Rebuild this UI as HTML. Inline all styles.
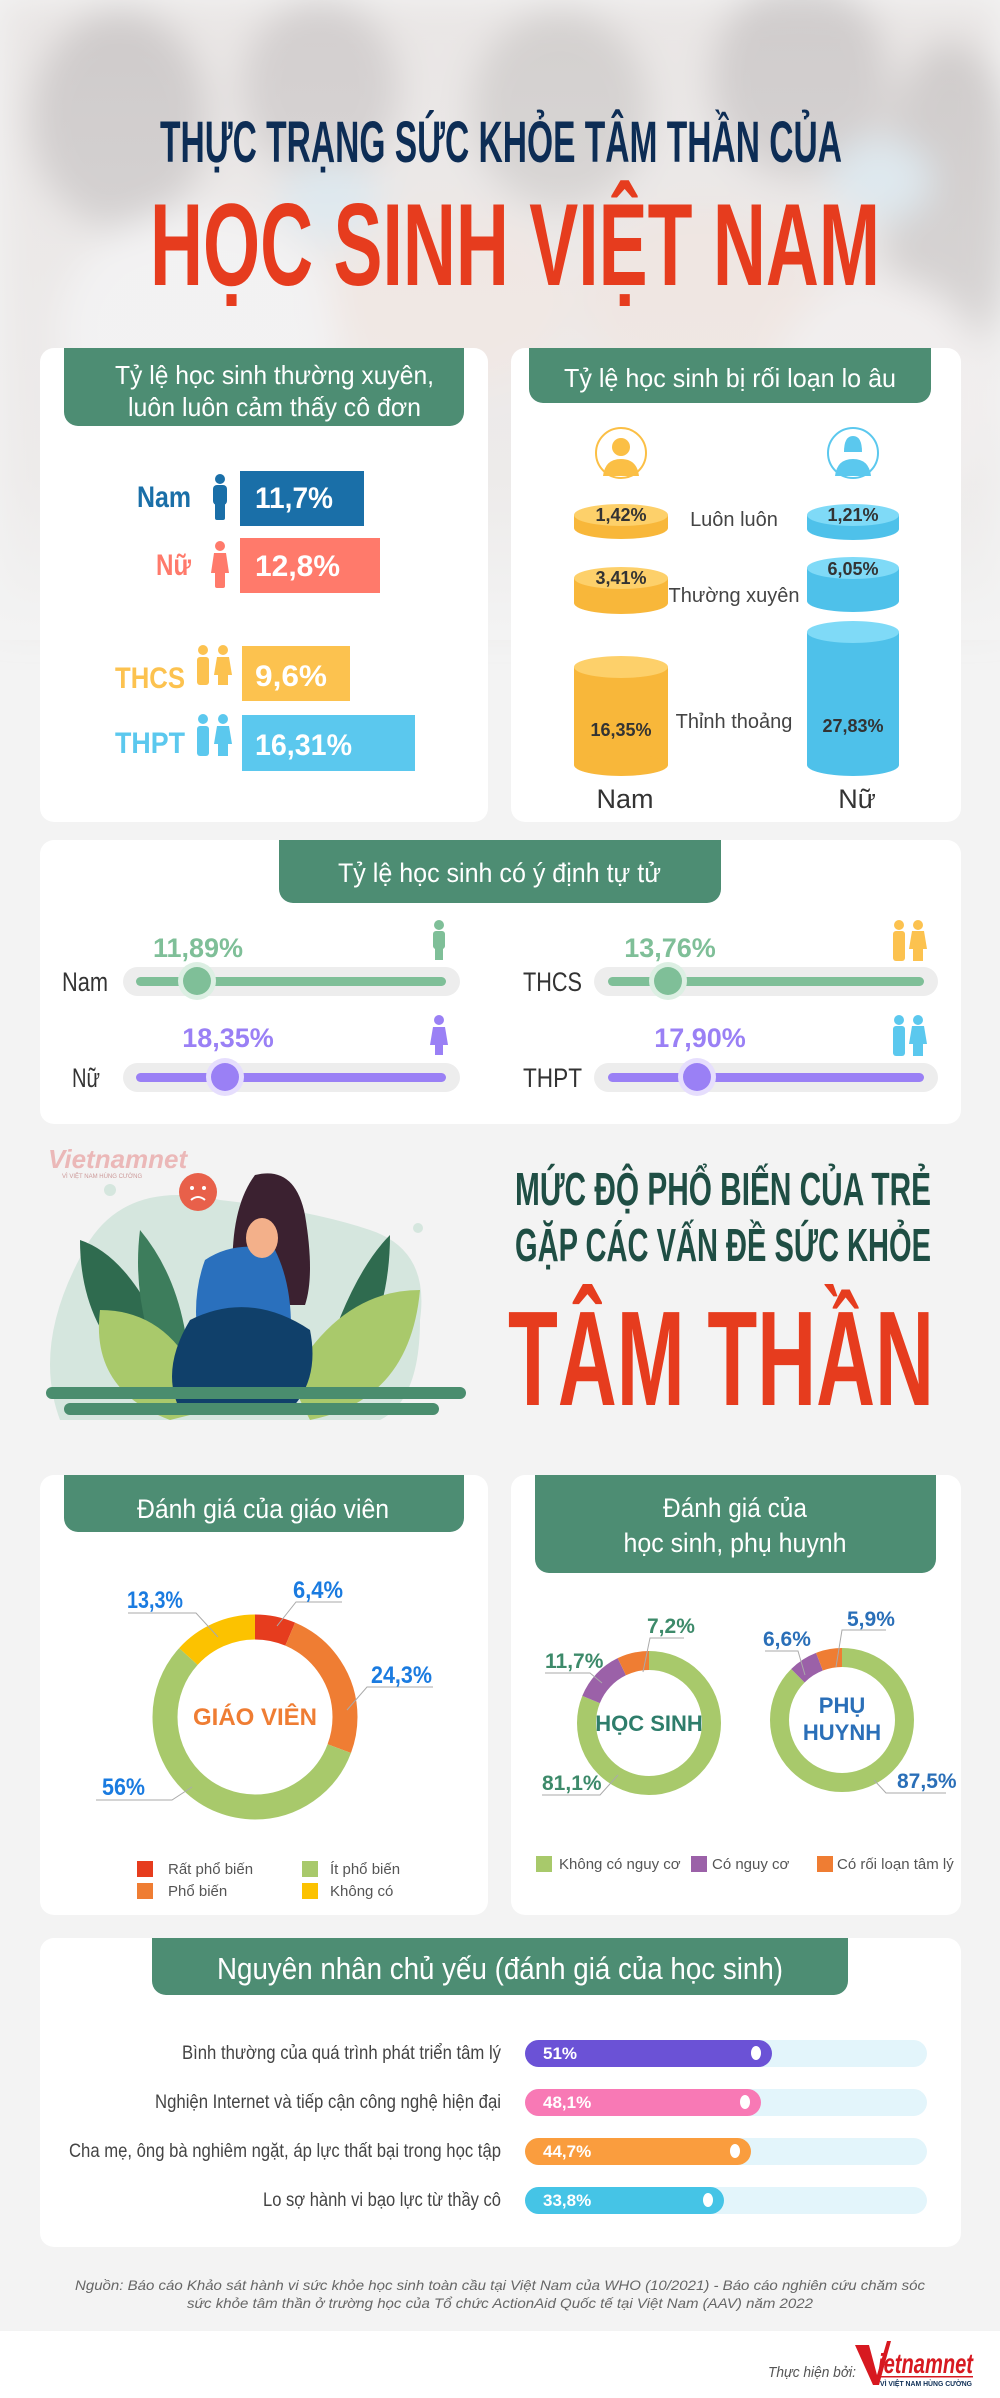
<!DOCTYPE html>
<html><head><meta charset="utf-8"><style>
html,body{margin:0;padding:0;background:#f3f3f3}
svg{display:block}
text{font-family:"Liberation Sans Narrow","Liberation Sans",sans-serif}
</style></head><body>
<svg width="1000" height="2398" viewBox="0 0 1000 2398" xmlns="http://www.w3.org/2000/svg">
<defs>
<filter id="bl" x="-20%" y="-20%" width="140%" height="140%"><feGaussianBlur stdDeviation="18"/></filter>
<linearGradient id="fade" x1="0" y1="0" x2="0" y2="1">
<stop offset="0" stop-color="#f3f3f3" stop-opacity="0.45"/>
<stop offset="0.75" stop-color="#f3f3f3" stop-opacity="0.65"/>
<stop offset="1" stop-color="#f3f3f3" stop-opacity="1"/>
</linearGradient>
</defs>
<rect width="1000" height="2398" fill="#f3f3f3"/>
<g filter="url(#bl)">
<rect x="0" y="0" width="1000" height="620" fill="#e2dcda"/>
<ellipse cx="120" cy="120" rx="90" ry="110" fill="#3a3438" opacity="0.3"/>
<ellipse cx="320" cy="90" rx="80" ry="90" fill="#4a4244" opacity="0.28"/>
<ellipse cx="560" cy="110" rx="90" ry="100" fill="#3e3638" opacity="0.25"/>
<ellipse cx="800" cy="80" rx="90" ry="100" fill="#3a3436" opacity="0.28"/>
<ellipse cx="950" cy="200" rx="70" ry="160" fill="#3a3436" opacity="0.3"/>
<ellipse cx="200" cy="330" rx="140" ry="120" fill="#f2f0f2"/>
<ellipse cx="450" cy="300" rx="120" ry="90" fill="#ecd8cf"/>
<ellipse cx="700" cy="300" rx="120" ry="90" fill="#ead5cc"/>
<ellipse cx="880" cy="400" rx="110" ry="120" fill="#efe8e8"/>
<ellipse cx="330" cy="200" rx="50" ry="40" fill="#c8dde9"/>
<ellipse cx="880" cy="180" rx="50" ry="40" fill="#c8dde9"/>
</g>
<rect x="0" y="0" width="1000" height="640" fill="url(#fade)"/>

<text x="160" y="162" font-size="58" font-weight="bold" fill="#0d2d55" textLength="682" lengthAdjust="spacingAndGlyphs">THỰC TRẠNG SỨC KHỎE TÂM THẦN CỦA</text>
<text x="150" y="285" font-size="117" font-weight="bold" fill="#e63c1e" textLength="730" lengthAdjust="spacingAndGlyphs">HỌC SINH VIỆT NAM</text>

<rect x="40" y="348" width="448" height="474" rx="14" fill="#fff"/>
<rect x="64" y="348" width="400" height="78" rx="14" fill="#4d8d73"/>
<rect x="64" y="348" width="400" height="20" fill="#4d8d73"/>
<text x="115" y="384" font-size="26" fill="#fff" textLength="319" lengthAdjust="spacingAndGlyphs">Tỷ lệ học sinh thường xuyên,</text>
<text x="128" y="416" font-size="26" fill="#fff" textLength="293" lengthAdjust="spacingAndGlyphs">luôn luôn cảm thấy cô đơn</text>

<text x="137" y="507" font-size="30" font-weight="bold" fill="#1a6fa8" textLength="54" lengthAdjust="spacingAndGlyphs">Nam</text>
<g fill="#1a6fa8"><circle cx="220" cy="479" r="5"/><rect x="213" y="485" width="14" height="20" rx="4"/><rect x="215" y="500" width="10" height="20" rx="2"/></g>
<rect x="240" y="471" width="124" height="55" fill="#1a6fa8"/>
<text x="255" y="508" font-size="30" font-weight="bold" fill="#fff" textLength="78" lengthAdjust="spacingAndGlyphs">11,7%</text>

<text x="156" y="575" font-size="30" font-weight="bold" fill="#ff7a6b" textLength="35" lengthAdjust="spacingAndGlyphs">Nữ</text>
<g fill="#ff7a6b"><circle cx="220" cy="546" r="5"/><path d="M214 553h12l3 20h-18z"/><rect x="215" y="570" width="10" height="18" rx="2"/></g>
<rect x="240" y="538" width="140" height="55" fill="#ff7a6b"/>
<text x="255" y="576" font-size="30" font-weight="bold" fill="#fff" textLength="85" lengthAdjust="spacingAndGlyphs">12,8%</text>

<text x="115" y="688" font-size="30" font-weight="bold" fill="#fcc24f" textLength="70" lengthAdjust="spacingAndGlyphs">THCS</text>
<g fill="#fcc24f"><circle cx="203" cy="650" r="5"/><rect x="197" y="657" width="12" height="28" rx="3"/><circle cx="223" cy="650" r="5"/><path d="M217 657h12l3 18h-18z"/><rect x="218" y="672" width="10" height="13"/></g>
<rect x="242" y="646" width="108" height="55" fill="#fcc24f"/>
<text x="255" y="686" font-size="30" font-weight="bold" fill="#fff" textLength="72" lengthAdjust="spacingAndGlyphs">9,6%</text>

<text x="115" y="753" font-size="30" font-weight="bold" fill="#5bc8ee" textLength="70" lengthAdjust="spacingAndGlyphs">THPT</text>
<g fill="#5bc8ee"><circle cx="203" cy="719" r="5"/><rect x="197" y="726" width="12" height="30" rx="3"/><circle cx="223" cy="719" r="5"/><path d="M217 726h12l3 18h-18z"/><rect x="218" y="741" width="10" height="15"/></g>
<rect x="242" y="715" width="173" height="56" fill="#5bc8ee"/>
<text x="255" y="755" font-size="30" font-weight="bold" fill="#fff" textLength="97" lengthAdjust="spacingAndGlyphs">16,31%</text>

<rect x="511" y="348" width="450" height="474" rx="14" fill="#fff"/>
<rect x="529" y="348" width="402" height="55" rx="14" fill="#4d8d73"/>
<rect x="529" y="348" width="402" height="20" fill="#4d8d73"/>
<text x="564" y="387" font-size="26" fill="#fff" textLength="332" lengthAdjust="spacingAndGlyphs">Tỷ lệ học sinh bị rối loạn lo âu</text>

<circle cx="621" cy="453" r="25" fill="#fff" stroke="#fbbf45" stroke-width="2"/>
<g fill="#fbbf45"><circle cx="621" cy="447" r="9"/><path d="M603 476 q2 -17 18 -17 q16 0 18 17z"/></g>
<circle cx="853" cy="453" r="25" fill="#fff" stroke="#5bc8ee" stroke-width="2"/>
<g fill="#5bc8ee"><path d="M844 452 q0 -16 9 -16 q9 0 9 16z"/><path d="M835 476 q2 -17 18 -17 q16 0 18 17z"/></g>

<g>
<rect x="574" y="515" width="94" height="13" fill="#f8b73a"/><ellipse cx="621" cy="528" rx="47" ry="11" fill="#f8b73a"/><ellipse cx="621" cy="515" rx="47" ry="11" fill="#fdd06a"/>
<rect x="807" y="515" width="92" height="14" fill="#4ec1ea"/><ellipse cx="853" cy="529" rx="46" ry="11" fill="#4ec1ea"/><ellipse cx="853" cy="515" rx="46" ry="11" fill="#7fdaf7"/>
<rect x="574" y="578" width="94" height="25" fill="#f8b73a"/><ellipse cx="621" cy="603" rx="47" ry="11" fill="#f8b73a"/><ellipse cx="621" cy="578" rx="47" ry="11" fill="#fdd06a"/>
<rect x="807" y="568" width="92" height="33" fill="#4ec1ea"/><ellipse cx="853" cy="601" rx="46" ry="11" fill="#4ec1ea"/><ellipse cx="853" cy="568" rx="46" ry="11" fill="#7fdaf7"/>
<rect x="574" y="667" width="94" height="98" fill="#f8b73a"/><ellipse cx="621" cy="765" rx="47" ry="11" fill="#f8b73a"/><ellipse cx="621" cy="667" rx="47" ry="11" fill="#fdd06a"/>
<rect x="807" y="632" width="92" height="133" fill="#4ec1ea"/><ellipse cx="853" cy="765" rx="46" ry="11" fill="#4ec1ea"/><ellipse cx="853" cy="632" rx="46" ry="11" fill="#7fdaf7"/>
</g>
<g font-size="18" font-weight="bold" fill="#333" text-anchor="middle">
<text x="621" y="521">1,42%</text><text x="853" y="521">1,21%</text>
<text x="621" y="584">3,41%</text><text x="853" y="575">6,05%</text>
<text x="621" y="736">16,35%</text><text x="853" y="732">27,83%</text>
</g>
<g font-size="20" fill="#444" text-anchor="middle">
<text x="734" y="526">Luôn luôn</text>
<text x="734" y="602">Thường xuyên</text>
<text x="734" y="728">Thỉnh thoảng</text>
</g>
<text x="625" y="808" font-size="27" fill="#333" text-anchor="middle">Nam</text>
<text x="857" y="808" font-size="27" fill="#333" text-anchor="middle">Nữ</text>

<rect x="40" y="840" width="921" height="284" rx="14" fill="#fff"/>
<rect x="279" y="840" width="442" height="63" rx="14" fill="#4d8d73"/>
<rect x="279" y="840" width="442" height="20" fill="#4d8d73"/>
<text x="338" y="882" font-size="27" fill="#fff" textLength="323" lengthAdjust="spacingAndGlyphs">Tỷ lệ học sinh có ý định tự tử</text>

<g font-size="27" fill="#333">
<text x="62" y="991" textLength="46" lengthAdjust="spacingAndGlyphs">Nam</text>
<text x="72" y="1087" textLength="28" lengthAdjust="spacingAndGlyphs">Nữ</text>
<text x="523" y="991" textLength="59" lengthAdjust="spacingAndGlyphs">THCS</text>
<text x="523" y="1087" textLength="59" lengthAdjust="spacingAndGlyphs">THPT</text>
</g>
<g>
<rect x="123" y="967" width="337" height="29" rx="14.5" fill="#ededed"/>
<rect x="136" y="977" width="310" height="9" rx="4.5" fill="#7fbf98"/>
<circle cx="197" cy="981" r="19" fill="#dcefe3"/><circle cx="197" cy="981" r="14" fill="#7fbf98"/>
<rect x="594" y="967" width="344" height="29" rx="14.5" fill="#ededed"/>
<rect x="608" y="977" width="316" height="9" rx="4.5" fill="#7fbf98"/>
<circle cx="668" cy="981" r="19" fill="#dcefe3"/><circle cx="668" cy="981" r="14" fill="#7fbf98"/>
<rect x="123" y="1063" width="337" height="29" rx="14.5" fill="#ededed"/>
<rect x="136" y="1073" width="310" height="9" rx="4.5" fill="#9a80f5"/>
<circle cx="225" cy="1077" r="19" fill="#e6defd"/><circle cx="225" cy="1077" r="14" fill="#9a80f5"/>
<rect x="594" y="1063" width="344" height="29" rx="14.5" fill="#ededed"/>
<rect x="608" y="1073" width="316" height="9" rx="4.5" fill="#9a80f5"/>
<circle cx="697" cy="1077" r="19" fill="#e6defd"/><circle cx="697" cy="1077" r="14" fill="#9a80f5"/>
</g>
<g font-size="27" font-weight="bold" text-anchor="middle">
<text x="198" y="957" fill="#7fbf98">11,89%</text>
<text x="670" y="957" fill="#7fbf98">13,76%</text>
<text x="228" y="1047" fill="#9a80f5">18,35%</text>
<text x="700" y="1047" fill="#9a80f5">17,90%</text>
</g>
<g fill="#7fbf98"><circle cx="439" cy="925" r="5"/><rect x="433" y="931" width="12" height="18" rx="3"/><rect x="435" y="945" width="8" height="15"/></g>
<g fill="#9a80f5"><circle cx="439" cy="1020" r="5"/><path d="M433 1027h12l3 18h-18z"/><rect x="435" y="1042" width="8" height="13"/></g>
<g fill="#fcc24f"><circle cx="899" cy="925" r="5"/><rect x="893" y="931" width="12" height="30" rx="3"/><circle cx="918" cy="925" r="5"/><path d="M912 931h12l3 18h-18z"/><rect x="913" y="946" width="10" height="15"/></g>
<g fill="#5bc8ee"><circle cx="899" cy="1020" r="5"/><rect x="893" y="1026" width="12" height="30" rx="3"/><circle cx="918" cy="1020" r="5"/><path d="M912 1026h12l3 18h-18z"/><rect x="913" y="1041" width="10" height="15"/></g>

<g>
<text x="48" y="1168" font-size="26" font-style="italic" font-weight="bold" fill="#e8a0a0" opacity="0.7">Vietnamnet</text>
<text x="62" y="1178" font-size="6" fill="#c99">VÌ VIỆT NAM HÙNG CƯỜNG</text>
<path d="M90 1240 q40 -60 130 -40 q90 10 150 30 q60 20 50 90 q0 80 -40 100 l-320 0 q-30 -80 30 -180z" fill="#d5e6de"/>
<circle cx="110" cy="1190" r="6" fill="#d5e6de"/><circle cx="418" cy="1228" r="5" fill="#d5e6de"/>
<path d="M80 1240 q60 20 100 140 l-20 10 q-80 -50 -80 -150z" fill="#2f6b4f"/>
<path d="M140 1230 q50 60 50 160 l-20 0 q-40 -80 -30 -160z" fill="#3d7d5c"/>
<path d="M390 1235 q-40 40 -70 140 l20 10 q50 -60 50 -150z" fill="#2f6b4f"/>
<path d="M100 1310 q80 0 110 100 l-40 10 q-80 -30 -70 -110z" fill="#a9c96b"/>
<path d="M420 1290 q-80 0 -130 90 l20 40 q100 -20 110 -130z" fill="#a9c96b"/>
<path d="M255 1175 q40 -10 50 40 q10 60 0 90 l-70 0 q-10 -90 20 -130z" fill="#3b2130"/>
<path d="M205 1260 q30 -20 70 -10 q20 40 15 100 l-90 0 q-10 -50 5 -90z" fill="#2a70bd"/>
<path d="M190 1320 q60 -30 120 10 q10 50 -20 80 l-110 0 q-20 -40 10 -90z" fill="#10406a"/>
<ellipse cx="262" cy="1238" rx="16" ry="20" fill="#f3b08a"/>
<circle cx="198" cy="1192" r="19" fill="#e8604a"/>
<circle cx="192" cy="1188" r="2" fill="#fff"/><circle cx="204" cy="1188" r="2" fill="#fff"/>
<path d="M191 1200 q7 -6 14 0" stroke="#fff" stroke-width="2" fill="none"/>
<rect x="46" y="1387" width="420" height="12" rx="6" fill="#4a8d6e"/>
<rect x="64" y="1403" width="375" height="12" rx="6" fill="#4a8d6e"/>
</g>
<g font-weight="bold">
<text x="515" y="1205" font-size="46" fill="#1f4e44" textLength="416" lengthAdjust="spacingAndGlyphs">MỨC ĐỘ PHỔ BIẾN CỦA TRẺ</text>
<text x="515" y="1261" font-size="46" fill="#1f4e44" textLength="416" lengthAdjust="spacingAndGlyphs">GẶP CÁC VẤN ĐỀ SỨC KHỎE</text>
<text x="508" y="1405" font-size="135" fill="#e63c1e" textLength="426" lengthAdjust="spacingAndGlyphs">TÂM THẦN</text>
</g>

<rect x="40" y="1475" width="448" height="440" rx="14" fill="#fff"/>
<rect x="64" y="1475" width="400" height="57" rx="14" fill="#4d8d73"/>
<rect x="64" y="1475" width="400" height="20" fill="#4d8d73"/>
<text x="137" y="1518" font-size="27" fill="#fff" textLength="252" lengthAdjust="spacingAndGlyphs">Đánh giá của giáo viên</text>
<g transform="rotate(-90 255 1717)" fill="none" stroke-width="25">
<circle cx="255" cy="1717" r="90" stroke="#e63c1e" stroke-dasharray="36.2 600"/>
<circle cx="255" cy="1717" r="90" stroke="#ef7d33" stroke-dasharray="0 36.2 137.4 600"/>
<circle cx="255" cy="1717" r="90" stroke="#a8c96b" stroke-dasharray="0 173.6 316.7 600"/>
<circle cx="255" cy="1717" r="90" stroke="#fcc200" stroke-dasharray="0 490.3 75.2 600"/>
</g>
<text x="255" y="1725" font-size="24" font-weight="bold" fill="#ef7d33" text-anchor="middle">GIÁO VIÊN</text>
<g stroke="#aaa" stroke-width="1" fill="none">
<polyline points="277,1626 296,1602 342,1602"/>
<polyline points="218,1637 196,1613 128,1613"/>
<polyline points="347,1710 367,1687 433,1687"/>
<polyline points="192,1787 172,1800 96,1800"/>
</g>
<g font-size="24" font-weight="bold" fill="#1a7be0">
<text x="293" y="1598" textLength="50" lengthAdjust="spacingAndGlyphs">6,4%</text>
<text x="127" y="1608" textLength="56" lengthAdjust="spacingAndGlyphs">13,3%</text>
<text x="371" y="1683" textLength="61" lengthAdjust="spacingAndGlyphs">24,3%</text>
<text x="102" y="1795" textLength="43" lengthAdjust="spacingAndGlyphs">56%</text>
</g>
<rect x="137" y="1861" width="16" height="16" fill="#e63c1e"/>
<rect x="137" y="1883" width="16" height="16" fill="#ef7d33"/>
<rect x="302" y="1861" width="16" height="16" fill="#a8c96b"/>
<rect x="302" y="1883" width="16" height="16" fill="#fcc200"/>
<g font-size="15" fill="#555">
<text x="168" y="1874">Rất phổ biến</text><text x="168" y="1896">Phổ biến</text>
<text x="330" y="1874">Ít phổ biến</text><text x="330" y="1896">Không có</text>
</g>

<rect x="511" y="1475" width="450" height="440" rx="14" fill="#fff"/>
<rect x="535" y="1475" width="401" height="98" rx="14" fill="#4d8d73"/>
<rect x="535" y="1475" width="401" height="20" fill="#4d8d73"/>
<text x="735" y="1517" font-size="27" fill="#fff" text-anchor="middle" textLength="144" lengthAdjust="spacingAndGlyphs">Đánh giá của</text>
<text x="735" y="1552" font-size="27" fill="#fff" text-anchor="middle" textLength="223" lengthAdjust="spacingAndGlyphs">học sinh, phụ huynh</text>

<g transform="rotate(-90 649 1723)" fill="none" stroke-width="19">
<circle cx="649" cy="1723" r="62.5" stroke="#a8c96b" stroke-dasharray="318.5 400"/>
<circle cx="649" cy="1723" r="62.5" stroke="#9b61a8" stroke-dasharray="0 318.5 45.9 400"/>
<circle cx="649" cy="1723" r="62.5" stroke="#ef7d33" stroke-dasharray="0 364.4 28.3 400"/>
</g>
<text x="649" y="1731" font-size="22" font-weight="bold" fill="#2e7d6b" text-anchor="middle">HỌC SINH</text>
<g transform="rotate(-90 842 1720)" fill="none" stroke-width="19">
<circle cx="842" cy="1720" r="62.5" stroke="#a8c96b" stroke-dasharray="343.6 400"/>
<circle cx="842" cy="1720" r="62.5" stroke="#9b61a8" stroke-dasharray="0 343.6 25.9 400"/>
<circle cx="842" cy="1720" r="62.5" stroke="#ef7d33" stroke-dasharray="0 369.5 23.2 400"/>
</g>
<text x="842" y="1713" font-size="22" font-weight="bold" fill="#2a6fb8" text-anchor="middle">PHỤ</text>
<text x="842" y="1740" font-size="22" font-weight="bold" fill="#2a6fb8" text-anchor="middle">HUYNH</text>
<g stroke="#aaa" stroke-width="1" fill="none">
<polyline points="643,1672 650,1638 684,1638"/>
<polyline points="602,1683 590,1673 545,1673"/>
<polyline points="618,1775 600,1795 542,1795"/>
<polyline points="836,1667 842,1630 886,1630"/>
<polyline points="805,1675 798,1651 765,1651"/>
<polyline points="874,1780 886,1793 946,1793"/>
</g>
<g font-size="21" font-weight="bold">
<text x="647" y="1633" fill="#3d8a6a">7,2%</text>
<text x="545" y="1668" fill="#3d8a6a">11,7%</text>
<text x="542" y="1790" fill="#3d8a6a">81,1%</text>
<text x="847" y="1626" fill="#2a6fb8">5,9%</text>
<text x="763" y="1646" fill="#2a6fb8">6,6%</text>
<text x="897" y="1788" fill="#2a6fb8">87,5%</text>
</g>
<rect x="536" y="1856" width="16" height="16" fill="#a8c96b"/>
<rect x="691" y="1856" width="16" height="16" fill="#9b61a8"/>
<rect x="817" y="1856" width="16" height="16" fill="#ef7d33"/>
<g font-size="15" fill="#555">
<text x="559" y="1869">Không có nguy cơ</text>
<text x="712" y="1869">Có nguy cơ</text>
<text x="837" y="1869">Có rối loạn tâm lý</text>
</g>

<rect x="40" y="1938" width="921" height="309" rx="14" fill="#fff"/>
<rect x="152" y="1938" width="696" height="57" rx="14" fill="#4d8d73"/>
<rect x="152" y="1938" width="696" height="20" fill="#4d8d73"/>
<text x="217" y="1979" font-size="31" fill="#fff" textLength="566" lengthAdjust="spacingAndGlyphs">Nguyên nhân chủ yếu (đánh giá của học sinh)</text>
<g font-size="19" fill="#444" text-anchor="end">
<text x="501" y="2059" textLength="319" lengthAdjust="spacingAndGlyphs">Bình thường của quá trình phát triển tâm lý</text>
<text x="501" y="2108" textLength="346" lengthAdjust="spacingAndGlyphs">Nghiện Internet và tiếp cận công nghệ hiện đại</text>
<text x="501" y="2157" textLength="432" lengthAdjust="spacingAndGlyphs">Cha mẹ, ông bà nghiêm ngặt, áp lực thất bại trong học tập</text>
<text x="501" y="2206" textLength="238" lengthAdjust="spacingAndGlyphs">Lo sợ hành vi bạo lực từ thầy cô</text>
</g>
<g>
<rect x="525" y="2040" width="402" height="27" rx="13.5" fill="#e3f5fb"/>
<rect x="525" y="2040" width="247" height="27" rx="13.5" fill="#6b52d6"/>
<ellipse cx="756" cy="2053" rx="5" ry="7" fill="#fff"/>
<rect x="525" y="2089" width="402" height="27" rx="13.5" fill="#e3f5fb"/>
<rect x="525" y="2089" width="236" height="27" rx="13.5" fill="#f879b5"/>
<ellipse cx="745" cy="2102" rx="5" ry="7" fill="#fff"/>
<rect x="525" y="2138" width="402" height="27" rx="13.5" fill="#e3f5fb"/>
<rect x="525" y="2138" width="226" height="27" rx="13.5" fill="#fa9d3e"/>
<ellipse cx="735" cy="2151" rx="5" ry="7" fill="#fff"/>
<rect x="525" y="2187" width="402" height="27" rx="13.5" fill="#e3f5fb"/>
<rect x="525" y="2187" width="199" height="27" rx="13.5" fill="#45c4e6"/>
<ellipse cx="708" cy="2200" rx="5" ry="7" fill="#fff"/>
</g>
<g font-size="17" font-weight="bold" fill="#fff">
<text x="543" y="2059">51%</text><text x="543" y="2108">48,1%</text><text x="543" y="2157">44,7%</text><text x="543" y="2206">33,8%</text>
</g>

<g font-size="14" font-style="italic" fill="#666">
<text x="75" y="2290" textLength="850" lengthAdjust="spacingAndGlyphs">Nguồn: Báo cáo Khảo sát hành vi sức khỏe học sinh toàn cầu tại Việt Nam của WHO (10/2021) - Báo cáo nghiên cứu chăm sóc</text>
<text x="187" y="2308" textLength="626" lengthAdjust="spacingAndGlyphs">sức khỏe tâm thần ở trường học của Tổ chức ActionAid Quốc tế tại Việt Nam (AAV) năm 2022</text>
</g>
<rect x="0" y="2331" width="1000" height="67" fill="#fff"/>
<text x="768" y="2377" font-size="15" font-style="italic" fill="#555" textLength="88" lengthAdjust="spacingAndGlyphs">Thực hiện bởi:</text>
<path d="M855 2345 l14 0 l8 30 l10 -34 l4 0 l-12 44 l-6 0z" fill="#d71920"/>
<text x="878" y="2373" font-size="28" font-weight="bold" font-style="italic" fill="#d71920" textLength="95" lengthAdjust="spacingAndGlyphs">ietnamnet</text>
<rect x="878" y="2376" width="95" height="1.5" fill="#d71920"/>
<text x="880" y="2386" font-size="7" font-weight="bold" fill="#0d2d55" textLength="92" lengthAdjust="spacingAndGlyphs">VÌ VIỆT NAM HÙNG CƯỜNG</text>
</svg>
</body></html>
